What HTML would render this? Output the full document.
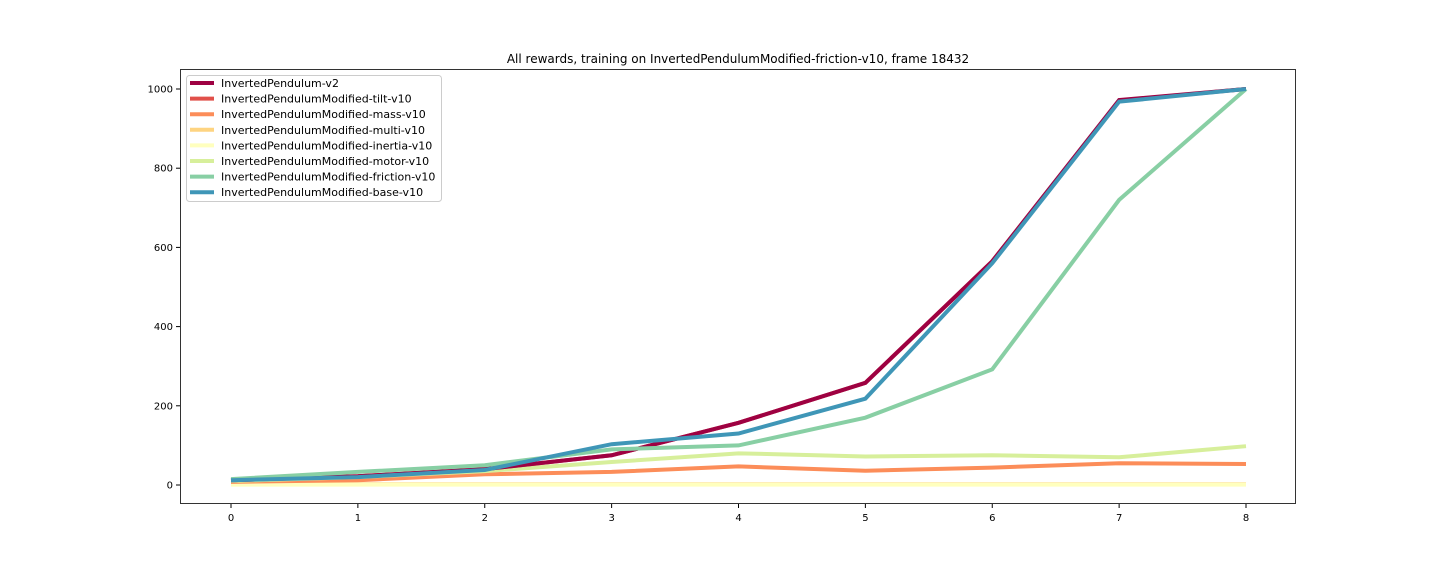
<!DOCTYPE html>
<html><head><meta charset="utf-8"><style>
body{margin:0;background:#fff;font-family:"Liberation Sans","DejaVu Sans",sans-serif}
svg text{font-family:"DejaVu Sans","Liberation Sans",sans-serif}
</style></head><body>
<svg id="chart" width="1440" height="576" xmlns="http://www.w3.org/2000/svg"></svg>
<script>
const xTicks=[0,1,2,3,4,5,6,7,8];
const yTicks=[0,200,400,600,800,1000];
const seriesNames=["InvertedPendulum-v2","InvertedPendulumModified-tilt-v10","InvertedPendulumModified-mass-v10","InvertedPendulumModified-multi-v10","InvertedPendulumModified-inertia-v10","InvertedPendulumModified-motor-v10","InvertedPendulumModified-friction-v10","InvertedPendulumModified-base-v10"];
const colors=["#9e0142","#e1504a","#fc8d59","#fed481","#ffffbe","#d7ef9b","#88cfa4","#3f96b7"];
const v2=[12,22,40,75,157,258,565,972,1000];
const tilt=[12,22,40,75,157,258,565,970,1000];
const mass=[8,12,27,33,47,36,44,55,53];
const multi=[2,2,2,2,2,2,2,2,2];
const inertia=[1,1,1,1,1,1,1,1,1];
const motor=[10,20,35,58,80,72,75,70,98];
const friction=[15,33,50,90,100,170,292,720,1000];
const base=[12,20,38,103,130,218,560,968,1000];
const seriesData=[v2,tilt,mass,multi,inertia,motor,friction,base];
const drawOrder=[3,4,2,5,1,0,6,7];
const L=180,R=1296,T=69,B=504;
const xs=v=>231+v*(1246-231)/8;
const ys=v=>485-v*(485-89)/1000;
const svg=document.getElementById('chart');
const NS="http://www.w3.org/2000/svg";
function mk(tag,attrs,parent){const e=document.createElementNS(NS,tag);for(const k in attrs)e.setAttribute(k,attrs[k]);(parent||svg).appendChild(e);return e;}
const title=mk('text',{x:738,y:63,'text-anchor':'middle','font-size':12});


title.textContent="All rewards, training on InvertedPendulumModified-friction-v10, frame 18432";
xTicks.forEach(t=>{
 const l=mk('line',{x1:xs(t),x2:xs(t),y1:B,y2:B+4,stroke:'#000'});
 
 
 const tx=mk('text',{x:xs(t),y:B+17,'text-anchor':'middle','font-size':10});
 
 
 tx.textContent=t;
});
yTicks.forEach(t=>{
 const l=mk('line',{x1:L-4,x2:L,y1:ys(t),y2:ys(t),stroke:'#000'});
 
 
 const tx=mk('text',{x:L-7,y:ys(t)+3.5,'text-anchor':'end','font-size':10});
 
 
 tx.textContent=t;
});
drawOrder.forEach(i=>{
 const p=mk('polyline',{points:seriesData[i].map((v,j)=>xs(xTicks[j])+','+ys(v)).join(' '),fill:'none',stroke:colors[i],'stroke-width':4,'stroke-linejoin':'miter'});
 
 
});
const frame=mk('rect',{x:L+0.5,y:T+0.5,width:R-L-1,height:B-T-1,fill:'none',stroke:'#000','stroke-width':0.8});


const lg=mk('g',{});


mk('rect',{x:186.5,y:75.5,width:255,height:126,rx:3,fill:'#fff','fill-opacity':0.8,stroke:'#ccc'},lg);
seriesNames.forEach((n,i)=>{
 const y=83+i*15.6;
 const ln=mk('line',{x1:190,x2:214,y1:y,y2:y,stroke:colors[i],'stroke-width':4},lg);
 
 
 const tx=mk('text',{x:221,y:y+4,'font-size':11},lg);
 
 
 tx.textContent=n;
});
</script>
</body></html>
